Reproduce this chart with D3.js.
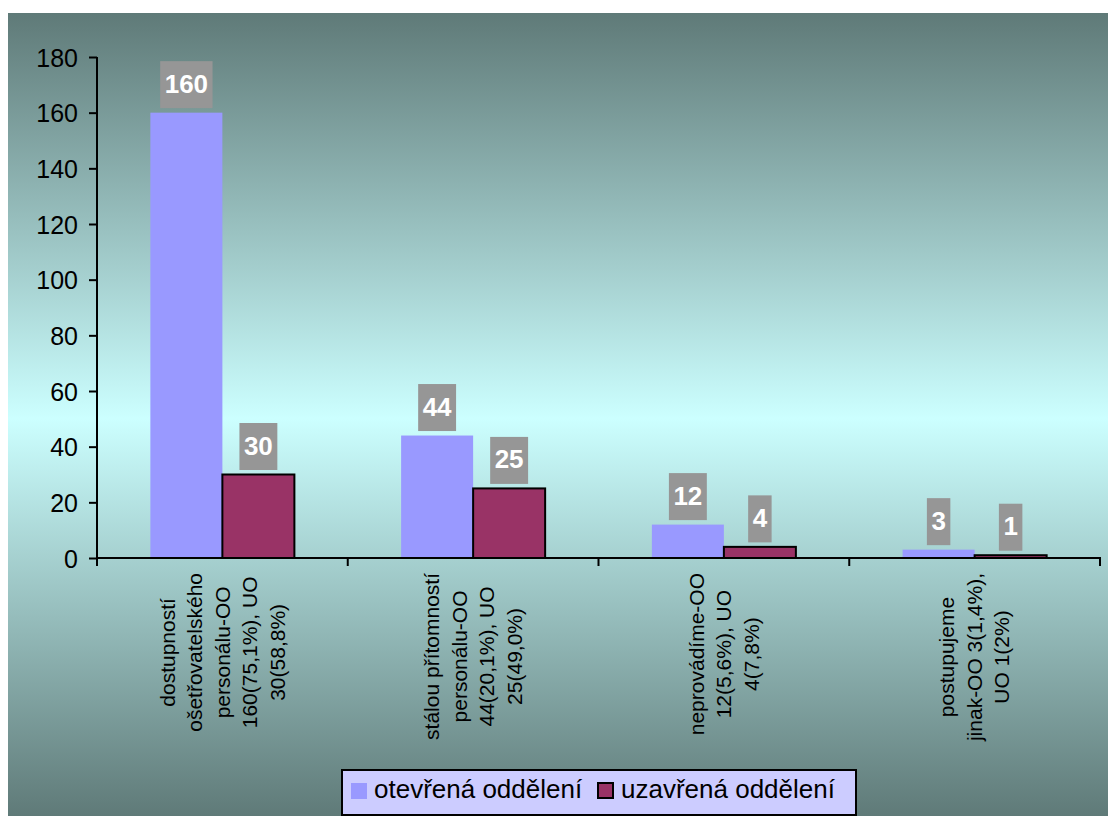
<!DOCTYPE html>
<html><head><meta charset="utf-8">
<script src="https://cdn.jsdelivr.net/npm/d3@7/dist/d3.min.js"></script>
<style>body{margin:0;background:#fff;}svg{display:block;font-family:"Liberation Sans",Arial,sans-serif;}</style>
</head><body><svg id="c" width="1108" height="816"></svg>
<script>
const categories = [
  ["dostupností", "ošetřovatelského", "personálu-OO", "160(75,1%), UO", "30(58,8%)"],
  ["stálou přítomností", "personálu-OO", "44(20,1%), UO", "25(49,0%)"],
  ["neprovádíme-OO", "12(5,6%), UO", "4(7,8%)"],
  ["postupujeme", "jinak-OO 3(1,4%),", "UO 1(2%)"]
];
const seriesNames = ["otevřená oddělení", "uzavřená oddělení"];
const openValues = [160, 44, 12, 3];
const closedValues = [30, 25, 4, 1];
const yTicks = [0, 20, 40, 60, 80, 100, 120, 140, 160, 180];

const svg = d3.select("#c");
const defs = svg.append("defs");
const grad = defs.append("linearGradient").attr("id","bg").attr("x1",0).attr("y1",0).attr("x2",0).attr("y2",1);
grad.append("stop").attr("offset","0%").attr("stop-color","#5f7a78");
grad.append("stop").attr("offset","50.5%").attr("stop-color","#ccffff");
grad.append("stop").attr("offset","100%").attr("stop-color","#5f7a78");
svg.append("rect").attr("x",8).attr("y",13).attr("width",1100).attr("height",803).attr("fill","url(#bg)");

const x0 = d3.scaleBand().domain(d3.range(categories.length)).range([97,1100]).padding(0);
const x1 = d3.scaleBand().domain([0,1]).range([0,x0.bandwidth()]).paddingInner(0).paddingOuter(0.741);
const y = d3.scaleLinear().domain([0,180]).range([558,57]);
const colors = ["#9999ff","#993366"];

const data = categories.map((c,i)=>({i, vals:[openValues[i], closedValues[i]]}));

// bars
const g = svg.append("g");
data.forEach(d=>{
  d.vals.forEach((v,s)=>{
    const bx = x0(d.i)+x1(s);
    g.append("rect").attr("x",bx).attr("y",y(v)).attr("width",x1.bandwidth()).attr("height",y(0)-y(v))
      .attr("fill",colors[s]).attr("stroke",s===1?"#000":"none").attr("stroke-width",2);
  });
});

// axes
const yAxis = d3.axisLeft(y).tickValues(yTicks).tickSize(8).tickPadding(11).tickFormat(d3.format("d"));
const ya = svg.append("g").attr("transform","translate(97,0)").call(yAxis);
ya.select(".domain").attr("stroke","#000").attr("stroke-width",2).attr("d","M0,57V566");
ya.selectAll(".tick line").attr("stroke","#000").attr("stroke-width",2);
ya.selectAll(".tick text").attr("font-size",25).attr("fill","#000").attr("font-family","Liberation Sans, Arial, sans-serif").attr("dy","0.36em");

const xa = svg.append("g");
xa.append("line").attr("x1",96).attr("x2",1101).attr("y1",558).attr("y2",558).attr("stroke","#000").attr("stroke-width",2);
const bounds = x0.domain().map(i=>x0(i)).concat([x0.range()[1]]);
xa.selectAll("line.t").data(bounds).enter().append("line").attr("class","t")
  .attr("x1",d=>d).attr("x2",d=>d).attr("y1",558).attr("y2",566).attr("stroke","#000").attr("stroke-width",2);

// category labels (rotated)
data.forEach(d=>{
  const lines = categories[d.i];
  const cx = x0(d.i)+x0.bandwidth()/2;
  const lg = svg.append("g");
  const texts = lines.map((ln,k)=>lg.append("text").text(ln).attr("font-size",21).attr("fill","#000").attr("text-anchor","middle"));
  const maxLen = d3.max(texts, t=>t.node().getComputedTextLength());
  const cy = 573 + maxLen/2;
  const sp = 27.5;
  texts.forEach((t,k)=>{
    const lx = cx + (k-(lines.length-1)/2)*sp;
    t.attr("transform",`translate(${lx},${cy}) rotate(-90)`).attr("dy","0.35em");
  });
});

// data labels
data.forEach(d=>{
  d.vals.forEach((v,s)=>{
    const cx = x0(d.i)+x1(s)+x1.bandwidth()/2;
    const lg = svg.append("g");
    const r = lg.append("rect").attr("fill","#969696");
    const t = lg.append("text").text(v).attr("font-size",26).attr("font-weight","bold").attr("fill","#fff").attr("text-anchor","middle");
    const w = t.node().getComputedTextLength()+9;
    const bottom = y(v)-4.5;
    r.attr("x",cx-w/2).attr("y",bottom-47).attr("width",w).attr("height",47);
    t.attr("x",cx).attr("y",bottom-15.5);
  });
});

// legend
const leg = svg.append("g");
leg.append("rect").attr("x",342).attr("y",770).attr("width",514).attr("height",45).attr("fill","#ccccff").attr("stroke","#000").attr("stroke-width",2);
leg.append("rect").attr("x",351).attr("y",783).attr("width",16).attr("height",16).attr("fill",colors[0]);
leg.append("text").attr("x",374).attr("y",798).attr("font-size",26).text(seriesNames[0]);
leg.append("rect").attr("x",598).attr("y",783).attr("width",15).attr("height",15).attr("fill",colors[1]).attr("stroke","#000").attr("stroke-width",2);
leg.append("text").attr("x",621).attr("y",798).attr("font-size",26).text(seriesNames[1]);
</script></body></html>
